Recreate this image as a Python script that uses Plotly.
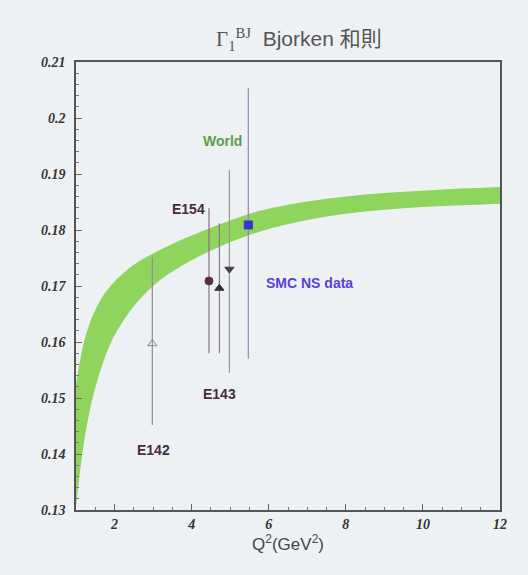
import plotly.graph_objects as go

# Band (world-average Bjorken sum prediction)
band_q2 = [1.0, 1.1, 1.2, 1.35, 1.5, 1.7, 2.0, 2.5, 3.0, 3.5, 4.0, 4.5, 5.0, 5.5, 6.0, 7.0, 8.0, 9.0, 10.0, 11.0, 12.0]
band_upper = [0.1525, 0.1565, 0.1598, 0.1632, 0.1657, 0.1682, 0.1708, 0.1738, 0.1758, 0.1775, 0.1790, 0.1804, 0.1817, 0.1829, 0.1838, 0.1851, 0.1860, 0.1866, 0.1870, 0.1874, 0.1877]
band_lower = [0.1305, 0.1366, 0.1418, 0.1475, 0.1518, 0.1563, 0.1612, 0.1664, 0.1700, 0.1726, 0.1746, 0.1763, 0.1778, 0.1791, 0.1802, 0.1818, 0.1829, 0.1836, 0.1841, 0.1844, 0.1847]

# Data points
pt_names = ["E142", "E154", "E143", "E143b", "SMC"]
pt_q2 = [2.98, 4.45, 4.72, 4.98, 5.47]
pt_val = [0.1597, 0.1709, 0.1696, 0.1730, 0.1809]
pt_err_plus = [0.0155, 0.0130, 0.0116, 0.0177, 0.0244]
pt_err_minus = [0.0145, 0.0129, 0.0116, 0.0185, 0.0239]
pt_symbols = ["triangle-up-open", "circle", "triangle-up", "triangle-down", "square"]
pt_colors = ["#8a8090", "#5a3048", "#3a2a35", "#4a4048", "#3535d0"]
pt_err_colors = ["#8f8a9a", "#8a7088", "#8a7a88", "#9a9590", "#8a88b8"]

# Labels
lab_text = ["World", "E154", "SMC NS data", "E143", "E142"]
lab_q2 = [4.79, 3.91, 7.05, 4.71, 3.0]
lab_val = [0.1959, 0.1838, 0.1705, 0.1507, 0.1407]
lab_colors = ["#5aa048", "#4a2c3c", "#5a40d8", "#4a2c3c", "#4a2c3c"]

fig = go.Figure()
fig.add_trace(go.Scatter(x=band_q2, y=band_lower, mode="lines", line=dict(width=0, shape="spline"),
                         showlegend=False, hoverinfo="skip"))
fig.add_trace(go.Scatter(x=band_q2, y=band_upper, mode="lines", line=dict(width=0, shape="spline"),
                         fill="tonexty", fillcolor="#8fd45c", showlegend=False, hoverinfo="skip"))

for i in range(len(pt_names)):
    fig.add_trace(go.Scatter(
        x=[pt_q2[i]], y=[pt_val[i]], mode="markers", name=pt_names[i], showlegend=False,
        marker=dict(symbol=pt_symbols[i], size=8, color=pt_colors[i],
                    line=dict(width=1, color=pt_colors[i])),
        error_y=dict(type="data", symmetric=False, array=[pt_err_plus[i]],
                     arrayminus=[pt_err_minus[i]], color=pt_err_colors[i], thickness=1.2, width=0)))

for t, x, y, c in zip(lab_text, lab_q2, lab_val, lab_colors):
    fig.add_annotation(x=x, y=y, text="<b>%s</b>" % t, showarrow=False,
                       font=dict(family="Liberation Sans, Arial", size=14, color=c))

tickfont = dict(family="Liberation Serif, Times New Roman, serif", size=14, color="#333",
                style="italic", weight="bold")

fig.update_layout(
    width=528, height=575,
    margin=dict(l=76, r=28, t=62, b=65),
    paper_bgcolor="#eef1f4", plot_bgcolor="#eef1f4",
    title=dict(text="<span style='font-family:Liberation Serif'>Γ<sub>1</sub><sup style='font-size:9px'>BJ</sup></span>  Bjorken 和則",
               x=0.566, xanchor="center", y=0.932, yanchor="middle",
               font=dict(family="Liberation Sans, Noto Sans CJK TC", size=21, color="#555")),
    xaxis=dict(range=[1, 12], tickvals=[2, 4, 6, 8, 10, 12], ticks="inside", ticklen=6,
               tickcolor="#666", showgrid=False, zeroline=False, showline=True, linecolor="#555",
               linewidth=1.5, mirror=True, tickfont=tickfont,
               minor=dict(dtick=0.5, ticks="inside", ticklen=3, tickcolor="#777"),
               title=dict(text="Q<sup>2</sup>(GeV<sup>2</sup>)", standoff=6,
                          font=dict(family="Liberation Sans, Arial", size=17, color="#444"))),
    yaxis=dict(range=[0.13, 0.21], tickvals=[0.13, 0.14, 0.15, 0.16, 0.17, 0.18, 0.19, 0.2, 0.21],
               ticks="inside", ticklen=6, tickcolor="#666", showgrid=False, zeroline=False,
               showline=True, linecolor="#555", linewidth=1.5, mirror=True, tickfont=tickfont,
               ticklabelstandoff=6,
               minor=dict(dtick=0.002, ticks="inside", ticklen=3, tickcolor="#777")),
)

fig.write_html("out.html")
